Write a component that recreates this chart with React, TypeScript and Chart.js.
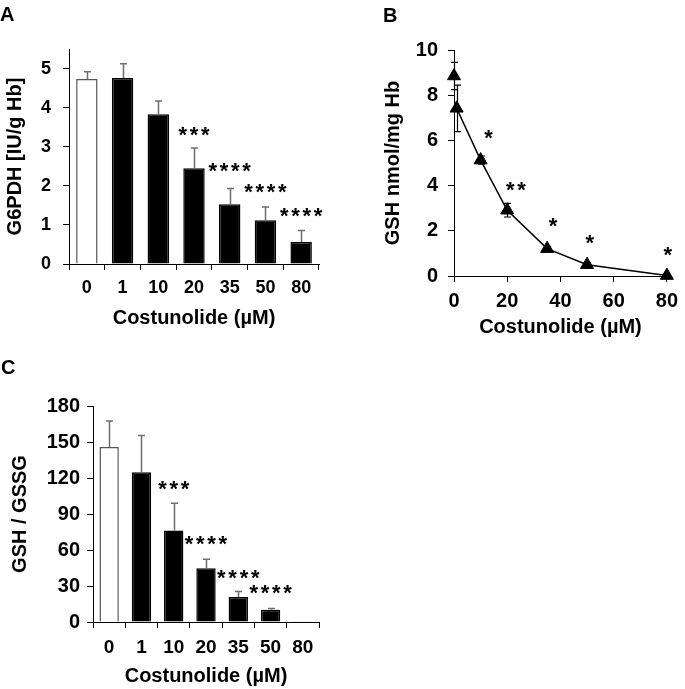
import React, { useEffect, useRef } from "react";
import { Chart, registerables } from "chart.js";

Chart.register(...registerables);

const FONT = '"Liberation Sans", Arial, Helvetica, sans-serif';

// ---------- Panel A : G6PDH ----------
const doseLabels = ["0", "1", "10", "20", "35", "50", "80"];
const g6pdhMean = [4.73, 4.76, 3.83, 2.45, 1.53, 1.12, 0.56];
const g6pdhSD = [0.19, 0.36, 0.34, 0.52, 0.4, 0.34, 0.3];
const g6pdhStarIdx = [3, 4, 5, 6];
const g6pdhStarLevel = [3.47, 2.53, 1.99, 1.38];
const g6pdhStarText = ["***", "****", "****", "****"];

// ---------- Panel B : GSH ----------
const gshControlDose = [0];
const gshControlMean = [8.85];
const gshControlSD = [0.6];
const gshDose = [1, 10, 20, 35, 50, 80];
const gshMean = [7.42, 5.13, 2.91, 1.21, 0.5, 0.02];
const gshSD = [1.03, 0.18, 0.3, 0.1, 0.08, 0];
const gshStarDose = [13, 23.3, 37.2, 51, 80.3];
const gshStarLevel = [6.38, 4.09, 2.47, 1.73, 1.21];
const gshStarText = ["*", "**", "*", "*", "*"];

// ---------- Panel C : GSH / GSSG ----------
const ratioMean = [145.8, 124.7, 76.3, 44.7, 20.8, 10.2, 0.3];
const ratioSD = [21.7, 30.8, 22.7, 7.5, 4.7, 1.1, 0];
const ratioStarIdx = [2, 3, 4, 5];
const ratioStarLevel = [115.7, 69.9, 41.6, 29.1];
const ratioStarText = ["***", "****", "****", "****"];

type ErrSpec = { dataset: number; sd: number[]; color: string; width: number; cap: number; both: boolean };

function errorBarPlugin(specs: ErrSpec[]) {
  return {
    id: "errorBars",
    afterDatasetsDraw(chart: any) {
      const ctx = chart.ctx;
      const yScale = chart.scales.y;
      specs.forEach((s) => {
        const meta = chart.getDatasetMeta(s.dataset);
        const raw = chart.data.datasets[s.dataset].data;
        meta.data.forEach((el: any, i: number) => {
          const e = s.sd[i];
          if (!e) return;
          const v = typeof raw[i] === "number" ? raw[i] : raw[i].y;
          const x = Math.round(el.x) + 0.5;
          const yTop = yScale.getPixelForValue(v + e);
          const yBot = s.both ? yScale.getPixelForValue(v - e) : el.y;
          ctx.save();
          ctx.strokeStyle = s.color;
          ctx.lineWidth = s.width;
          ctx.beginPath();
          ctx.moveTo(x, yBot);
          ctx.lineTo(x, yTop);
          ctx.moveTo(x - s.cap / 2, yTop);
          ctx.lineTo(x + s.cap / 2, yTop);
          if (s.both) {
            ctx.moveTo(x - s.cap / 2, yBot);
            ctx.lineTo(x + s.cap / 2, yBot);
          }
          ctx.stroke();
          ctx.restore();
        });
      });
    },
  };
}

function starPlugin(xs: number[], ys: number[], texts: string[], fs: number, spacing: number) {
  return {
    id: "stars",
    afterDatasetsDraw(chart: any) {
      const { ctx } = chart;
      const xScale = chart.scales.x;
      const yScale = chart.scales.y;
      ctx.save();
      ctx.font = `bold ${fs}px ${FONT}`;
      ctx.fillStyle = "#000";
      ctx.textAlign = "center";
      ctx.textBaseline = "alphabetic";
      (ctx as any).letterSpacing = `${spacing}px`;
      xs.forEach((xv, i) => {
        const px = xScale.getPixelForValue(xv);
        const py = yScale.getPixelForValue(ys[i]);
        ctx.fillText(texts[i], px + spacing / 2, py + fs * 0.6);
      });
      ctx.restore();
    },
  };
}

const tickFont = (size: number) => ({ family: FONT, size, weight: "bold" as const });
const titleFont = { family: FONT, size: 20, weight: "bold" as const };
const axisGrid = { display: true, drawOnChartArea: false, drawTicks: true, tickLength: 6, color: "#000", lineWidth: 1 };
const axisBorder = { display: true, color: "#000", width: 1 };

function configA(): any {
  return {
    type: "bar",
    data: {
      labels: doseLabels,
      datasets: [
        {
          data: g6pdhMean,
          backgroundColor: doseLabels.map((_, i) => (i === 0 ? "#ffffff" : "#000000")),
          borderColor: doseLabels.map((_, i) => (i === 0 ? "#555555" : "#000000")),
          borderWidth: 1.5,
          barPercentage: 0.6,
          categoryPercentage: 1,
        },
      ],
    },
    options: {
      animation: false,
      responsive: false,
      events: [],
      layout: { padding: { left: 0, right: 21, top: 49, bottom: 0 } },
      plugins: { legend: { display: false }, tooltip: { enabled: false } },
      scales: {
        x: {
          grid: { ...axisGrid, offset: true },
          border: axisBorder,
          ticks: { color: "#000", font: tickFont(18), padding: 7, maxRotation: 0, autoSkip: false },
          title: { display: true, text: "Costunolide (µM)", color: "#000", font: titleFont, padding: { top: 0, bottom: 0 } },
          afterFit(s: any) { s.height = 66; },
        },
        y: {
          min: 0,
          max: 5.5,
          grid: axisGrid,
          border: axisBorder,
          ticks: { stepSize: 1, includeBounds: false, color: "#000", font: tickFont(18), padding: 12 },
          title: { display: true, text: "G6PDH [IU/g Hb]", color: "#000", font: titleFont, padding: { top: 3, bottom: 0 } },
          afterFit(s: any) { s.width = 69; },
        },
      },
    },
    plugins: [
      errorBarPlugin([{ dataset: 0, sd: g6pdhSD, color: "#6e6e6e", width: 1.5, cap: 7, both: false }]),
      starPlugin(g6pdhStarIdx, g6pdhStarLevel, g6pdhStarText, 22, 2.7),
    ],
  };
}

function configB(): any {
  return {
    type: "line",
    data: {
      datasets: [
        {
          data: gshControlDose.map((d, i) => ({ x: d, y: gshControlMean[i] })),
          showLine: false,
          pointStyle: "triangle",
          pointRadius: 7.5,
          pointBackgroundColor: "#000",
          pointBorderColor: "#000",
          pointBorderWidth: 1,
          clip: false,
        },
        {
          data: gshDose.map((d, i) => ({ x: d, y: gshMean[i] })),
          showLine: true,
          borderColor: "#000",
          borderWidth: 1.5,
          tension: 0,
          pointStyle: "triangle",
          pointRadius: 7.5,
          pointBackgroundColor: "#000",
          pointBorderColor: "#000",
          pointBorderWidth: 1,
          clip: false,
        },
      ],
    },
    options: {
      animation: false,
      responsive: false,
      events: [],
      layout: { padding: { left: 0, right: 10, top: 50, bottom: 0 } },
      plugins: { legend: { display: false }, tooltip: { enabled: false } },
      scales: {
        x: {
          type: "linear",
          min: 0,
          max: 80,
          grid: axisGrid,
          border: axisBorder,
          ticks: { stepSize: 20, color: "#000", font: tickFont(20), padding: 7, maxRotation: 0 },
          title: { display: true, text: "Costunolide (µM)", color: "#000", font: titleFont, padding: { top: 0, bottom: 1 } },
          afterFit(s: any) { s.height = 64; },
        },
        y: {
          min: 0,
          max: 10,
          grid: axisGrid,
          border: axisBorder,
          ticks: { stepSize: 2, color: "#000", font: tickFont(20), padding: 10 },
          title: { display: true, text: "GSH nmol/mg Hb", color: "#000", font: titleFont, padding: { top: 41, bottom: 0 } },
          afterFit(s: any) { s.width = 114; },
        },
      },
    },
    plugins: [
      errorBarPlugin([
        { dataset: 0, sd: gshControlSD, color: "#000", width: 1.2, cap: 7, both: true },
        { dataset: 1, sd: gshSD, color: "#000", width: 1.2, cap: 7, both: true },
      ]),
      starPlugin(gshStarDose, gshStarLevel, gshStarText, 22, 2.7),
    ],
  };
}

function configC(): any {
  return {
    type: "bar",
    data: {
      labels: doseLabels,
      datasets: [
        {
          data: ratioMean,
          backgroundColor: doseLabels.map((_, i) => (i === 0 ? "#ffffff" : "#000000")),
          borderColor: doseLabels.map((_, i) => (i === 0 ? "#555555" : "#000000")),
          borderWidth: 1.5,
          barPercentage: 0.6,
          categoryPercentage: 1,
        },
      ],
    },
    options: {
      animation: false,
      responsive: false,
      events: [],
      layout: { padding: { left: 0, right: 21, top: 76, bottom: 0 } },
      plugins: { legend: { display: false }, tooltip: { enabled: false } },
      scales: {
        x: {
          grid: { ...axisGrid, offset: true },
          border: axisBorder,
          ticks: { color: "#000", font: tickFont(19), padding: 8, maxRotation: 0, autoSkip: false },
          title: { display: true, text: "Costunolide (µM)", color: "#000", font: titleFont, padding: { top: 0, bottom: 1 } },
          afterFit(s: any) { s.height = 67; },
        },
        y: {
          min: 0,
          max: 180,
          grid: axisGrid,
          border: axisBorder,
          ticks: { stepSize: 30, color: "#000", font: tickFont(20), padding: 7 },
          title: { display: true, text: "GSH / GSSG", color: "#000", font: titleFont, padding: { top: 8, bottom: 0 } },
          afterFit(s: any) { s.width = 93; },
        },
      },
    },
    plugins: [
      errorBarPlugin([{ dataset: 0, sd: ratioSD, color: "#6e6e6e", width: 1.5, cap: 7, both: false }]),
      starPlugin(ratioStarIdx, ratioStarLevel, ratioStarText, 22, 2.7),
    ],
  };
}

function Panel(props: { make: () => any; left: number; top: number; width: number; height: number }) {
  const ref = useRef<HTMLCanvasElement>(null);
  useEffect(() => {
    const chart = new Chart(ref.current as HTMLCanvasElement, props.make());
    return () => chart.destroy();
  }, []);
  return (
    <canvas
      ref={ref}
      width={props.width}
      height={props.height}
      style={{ position: "absolute", left: props.left, top: props.top, width: props.width, height: props.height, display: "block" }}
    />
  );
}

const labelStyle = (left: number, top: number): React.CSSProperties => ({
  position: "absolute",
  left,
  top,
  font: `bold 20px ${FONT}`,
  lineHeight: "20px",
  color: "#000",
});

export default function App() {
  return (
    <div style={{ position: "absolute", left: 0, top: 0, width: 685, height: 689, background: "#fff", overflow: "hidden" }}>
      <Panel make={configA} left={0} top={0} width={340} height={330} />
      <Panel make={configB} left={340} top={0} width={345} height={340} />
      <Panel make={configC} left={0} top={330} width={340} height={359} />
      <div style={labelStyle(0, 4)}>A</div>
      <div style={labelStyle(383, 5)}>B</div>
      <div style={labelStyle(1, 357)}>C</div>
    </div>
  );
}
